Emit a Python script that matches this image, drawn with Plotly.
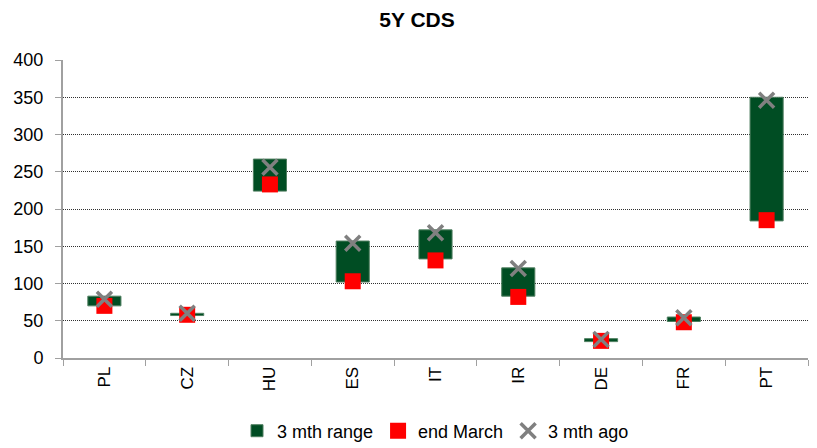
import plotly.graph_objects as go

countries = ["PL", "CZ", "HU", "ES", "IT", "IR", "DE", "FR", "PT"]
range_low = [70, 57, 224, 102, 133, 83, 22, 49, 184]
range_high = [83, 60, 267, 157, 172, 121, 26, 55, 350]
end_march = [70, 58, 233, 103, 131, 82, 23, 48, 185]
three_mth_ago = [79, 60, 256, 154, 168, 120, 25, 54, 346]
y_ticks = [0, 50, 100, 150, 200, 250, 300, 350, 400]

FONT = "Liberation Sans, Arial, sans-serif"
W, H = 809, 440  # page body adds an 8px offset

fig = go.Figure()
fig.add_trace(go.Bar(
    x=countries,
    y=[h - l for h, l in zip(range_high, range_low)],
    base=range_low,
    name="3 mth range",
    width=0.4,
    marker=dict(color="#004D23", line=dict(color="#4f7f60", width=1)),
))
fig.add_trace(go.Scatter(
    x=countries, y=end_march, mode="markers", name="end March",
    marker=dict(symbol="square", size=16, color="#FF0000", line=dict(width=0)),
))
fig.add_trace(go.Scatter(
    x=countries, y=three_mth_ago, mode="markers", name="3 mth ago",
    marker=dict(symbol="x-thin", size=15, color="#808080",
                line=dict(color="#808080", width=3.5)),
))

fig.update_layout(
    width=W, height=H,
    margin=dict(l=55, r=9, t=52, b=90, autoexpand=False),
    paper_bgcolor="white", plot_bgcolor="white",
    font=dict(family=FONT, size=17, color="#000000"),
    title=dict(text="<b>5Y CDS</b>", x=409 / W, xref="container", xanchor="center",
               y=1 - 4 / H, yref="container", yanchor="top",
               font=dict(family=FONT, size=21, color="#000000")),
    showlegend=True,
    legend=dict(orientation="h", x=0.5, xanchor="center", y=-0.245, yanchor="middle",
                font=dict(family=FONT, size=18, color="#000000"),
                itemwidth=30, tracegroupgap=0, traceorder="normal"),
    bargap=0.6,
)
fig.update_xaxes(
    type="category", range=[-0.5, len(countries) - 0.5], tickangle=-90,
    showline=True, linecolor="#A0A0A0", linewidth=2,
    ticks="outside", tickson="boundaries", ticklen=6, tickcolor="#A0A0A0",
    showgrid=False, tickfont=dict(family=FONT, size=17), fixedrange=True,
    automargin=False,
)
fig.update_yaxes(
    range=[0, 400], tickvals=y_ticks, showline=True, linecolor="#A0A0A0", linewidth=2,
    ticks="outside", ticklen=6, tickcolor="#A0A0A0", ticklabelstandoff=8,
    showgrid=True, gridcolor="#303030", griddash="1px,1px", gridwidth=1,
    zeroline=False, tickfont=dict(family=FONT, size=18), automargin=False,
)

fig.write_html("out.html")
